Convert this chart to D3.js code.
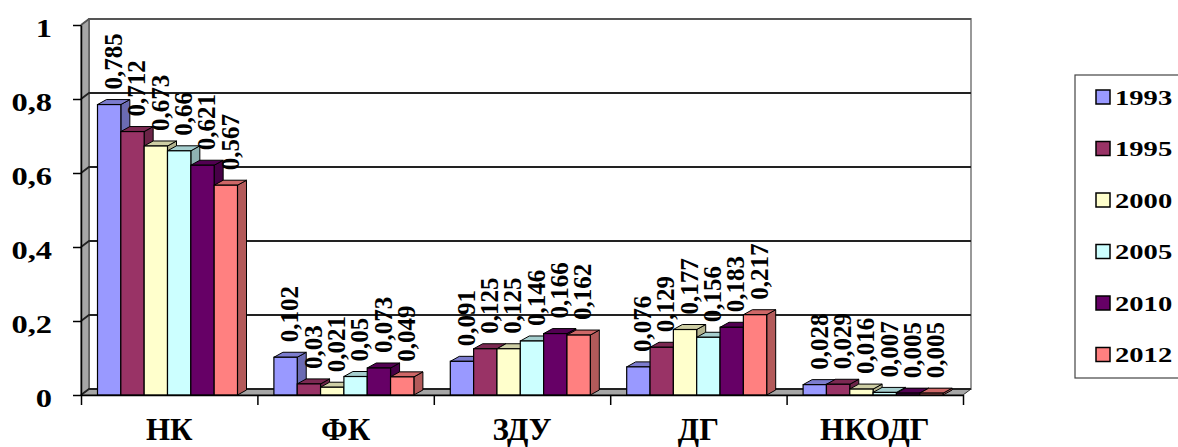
<!DOCTYPE html>
<html>
<head>
<meta charset="utf-8">
<script src="https://cdn.jsdelivr.net/npm/d3@7"></script>
<style>
  body { margin: 0; background: #fff; }
  text { font-family: "Liberation Serif", "Times New Roman", serif; font-weight: bold; fill: #000; }
</style>
</head>
<body>
<svg id="chart" width="1178" height="447"></svg>
<script>
// values
var categories = ["НК", "ФК", "ЗДУ", "ДГ", "НКОДГ"];
var years = ["1993", "1995", "2000", "2005", "2010", "2012"];
var v1993 = [0.785, 0.102, 0.091, 0.076, 0.028];
var v1995 = [0.712, 0.03, 0.125, 0.129, 0.029];
var v2000 = [0.673, 0.021, 0.125, 0.177, 0.016];
var v2005 = [0.66, 0.05, 0.146, 0.156, 0.007];
var v2010 = [0.621, 0.073, 0.166, 0.183, 0.005];
var v2012 = [0.567, 0.049, 0.162, 0.217, 0.005];
var yTicks = [0, 0.2, 0.4, 0.6, 0.8, 1];

var colors = ["#9999FF", "#993366", "#FFFFCC", "#CCFFFF", "#660066", "#FF8080"];

var seriesValues = [v1993, v1995, v2000, v2005, v2010, v2012];
var series = years.map(function(yr, i) {
  return { year: yr, color: colors[i], values: seriesValues[i] };
});

var plot = {left: 81, right: 963, top: 25, bottom: 395};
var wdx = 8, wdy = -6;      // depth of the walls
var bdx = 9, bdy = -5;      // depth of a bar
var comma = function(d) { return String(d).replace(".", ","); };

var svg = d3.select("#chart");

var x = d3.scaleBand().domain(categories).range([plot.left, plot.right]);
var xs = d3.scaleBand().domain(years).range([16.5, 156.5]);
var y = d3.scaleLinear().domain([0, 1]).range([plot.bottom, plot.top]);

// walls
svg.append("rect")
    .attr("x", plot.left + wdx).attr("y", plot.top + wdy)
    .attr("width", plot.right - plot.left).attr("height", plot.bottom - plot.top)
    .attr("fill", "#fff").attr("stroke", "#999").attr("stroke-width", 2);

svg.append("polygon")
    .attr("points", [[plot.left, plot.top], [plot.left + wdx, plot.top + wdy],
                     [plot.left + wdx, plot.bottom + wdy], [plot.left, plot.bottom]].join(" "))
    .attr("fill", "#a6a6a6").attr("stroke", "#333").attr("stroke-width", 1);

svg.append("polygon")
    .attr("points", [[plot.left, plot.bottom], [plot.left + wdx, plot.bottom + wdy],
                     [plot.right + wdx, plot.bottom + wdy], [plot.right, plot.bottom]].join(" "))
    .attr("fill", "#a6a6a6").attr("stroke", "#333").attr("stroke-width", 1);

svg.append("g")
  .selectAll("path")
  .data(yTicks)
  .enter().append("path")
    .attr("d", function(d) {
      return "M" + plot.left + "," + y(d) + "L" + (plot.left + wdx) + "," + (y(d) + wdy) + "H" + (plot.right + wdx);
    })
    .attr("fill", "none")
    .attr("stroke", function(d) { return d === 1 ? "#555" : "#222"; })
    .attr("stroke-width", 1.8);

// bars
var bars = svg.append("g");
categories.forEach(function(cat, ci) {
  series.forEach(function(s) {
    var v = s.values[ci];
    var x0 = x(cat) + xs(s.year), w = xs.bandwidth();
    var y0 = y(v), yb = y(0);
    var c = d3.color(s.color);
    var g = bars.append("g");
    g.append("polygon")
        .attr("points", [[x0 + w, y0], [x0 + w + bdx, y0 + bdy], [x0 + w + bdx, yb + bdy], [x0 + w, yb]].join(" "))
        .attr("fill", c.darker(1)).attr("stroke", "#000").attr("stroke-width", 1);
    g.append("polygon")
        .attr("points", [[x0, y0], [x0 + bdx, y0 + bdy], [x0 + w + bdx, y0 + bdy], [x0 + w, y0]].join(" "))
        .attr("fill", c.darker(0.6)).attr("stroke", "#000").attr("stroke-width", 1);
    g.append("rect")
        .attr("x", x0).attr("y", y0)
        .attr("width", w).attr("height", yb - y0)
        .attr("fill", s.color).attr("stroke", "#000").attr("stroke-width", 1.2);
  });
});

// value labels
categories.forEach(function(cat, ci) {
  series.forEach(function(s) {
    var v = s.values[ci];
    var cx = x(cat) + xs(s.year) + xs.bandwidth() / 2 + 4;
    svg.append("text")
        .attr("transform", "translate(" + cx + "," + (y(v) - 15) + ") rotate(-90)")
        .attr("dy", "0.35em")
        .attr("font-size", 25)
        .text(comma(v));
  });
});

// y axis
var yAxis = svg.append("g")
    .attr("transform", "translate(" + plot.left + ",0)")
    .call(d3.axisLeft(y).tickValues(yTicks).tickSize(8).tickSizeOuter(0).tickFormat(comma));
yAxis.select(".domain").attr("stroke", "#000").attr("stroke-width", 1.5);
yAxis.selectAll(".tick line").attr("stroke", "#000").attr("stroke-width", 1.5);
yAxis.selectAll(".tick text")
    .attr("font-size", 26)
    .attr("font-family", null)
    .attr("x", -23.2)
    .attr("y", 3)
    .attr("transform", "scale(1.25,1)");

// x axis: boundary ticks, then category names
var xb = d3.scaleLinear().domain([0, categories.length]).range([plot.left, plot.right]);
var xAxis = svg.append("g")
    .attr("transform", "translate(0," + plot.bottom + ")")
    .call(d3.axisBottom(xb).ticks(categories.length).tickSize(10).tickSizeOuter(0).tickFormat(""));
xAxis.select(".domain").attr("stroke", "#000").attr("stroke-width", 1.5);
xAxis.selectAll(".tick line").attr("stroke", "#000").attr("stroke-width", 1.5);

var xLabels = svg.append("g")
    .attr("transform", "translate(0," + plot.bottom + ")")
    .call(d3.axisBottom(x).tickSize(0));
xLabels.select(".domain").remove();
xLabels.selectAll(".tick text")
    .attr("font-size", 31)
    .attr("font-family", null)
    .attr("dy", null)
    .attr("y", 45);

// legend
var legend = svg.append("g").attr("transform", "translate(1075,75)");
legend.append("rect")
    .attr("width", 130).attr("height", 303)
    .attr("fill", "#fff").attr("stroke", "#444").attr("stroke-width", 1.2);
var item = legend.selectAll(".item")
    .data(series)
  .enter().append("g")
    .attr("class", "item")
    .attr("transform", function(d, i) { return "translate(0," + (22 + i * 51.5) + ")"; });
item.append("rect")
    .attr("x", 21).attr("y", -7)
    .attr("width", 14).attr("height", 14)
    .attr("fill", function(d) { return d.color; })
    .attr("stroke", "#000").attr("stroke-width", 1.5);
item.append("text")
    .attr("transform", "translate(40,0) scale(1.3,1)")
    .attr("dy", "0.35em")
    .attr("font-size", 22)
    .text(function(d) { return d.year; });
</script>
</body>
</html>
